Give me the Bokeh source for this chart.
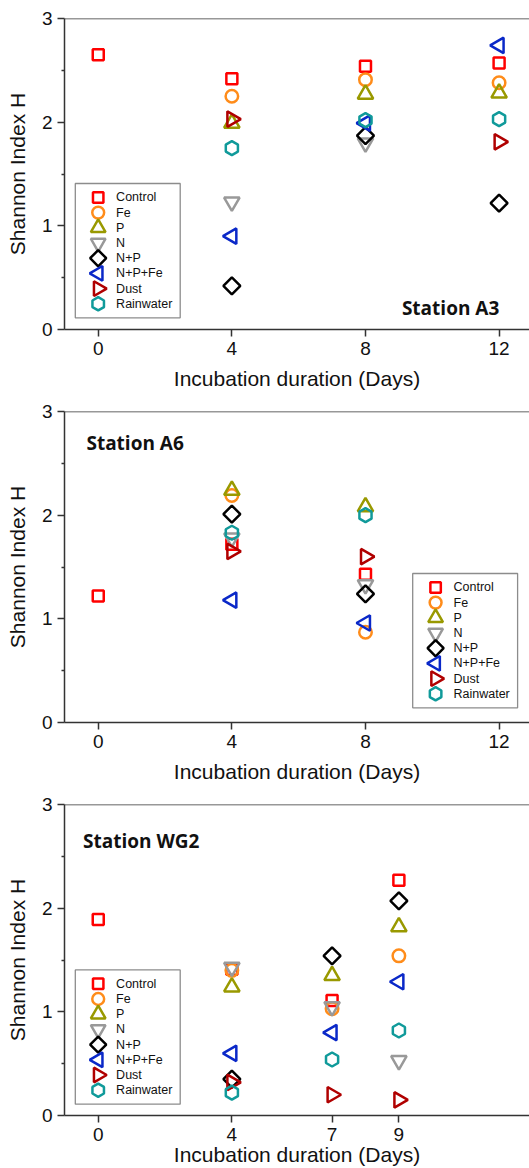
import numpy as np
from bokeh.plotting import figure
from bokeh.layouts import column
from bokeh.models import FixedTicker, Span, Range1d
from bokeh.core.properties import value
from bokeh.embed import file_html
from bokeh.resources import INLINE

nan = float("nan")

# ---------------- data ----------------
treatments = ["Control", "Fe", "P", "N", "N+P", "N+P+Fe", "Dust", "Rainwater"]

a3_days = [0, 4, 8, 12]
a3_control = [2.65, 2.42, 2.54, 2.57]
a3_fe = [nan, 2.25, 2.41, 2.38]
a3_p = [nan, 1.99, 2.27, 2.28]
a3_n = [nan, 1.23, 1.80, nan]
a3_np = [nan, 0.42, 1.87, 1.22]
a3_npfe = [nan, 0.90, 1.99, 2.74]
a3_dust = [nan, 2.03, nan, 1.81]
a3_rain = [nan, 1.75, 2.02, 2.03]

a6_days = [0, 4, 8]
a6_control = [1.22, 1.72, 1.43]
a6_fe = [nan, 2.19, 0.87]
a6_p = [nan, 2.24, 2.08]
a6_n = [nan, 1.78, 1.33]
a6_np = [nan, 2.01, 1.24]
a6_npfe = [nan, 1.18, 0.96]
a6_dust = [nan, 1.65, 1.60]
a6_rain = [nan, 1.83, 2.00]

wg2_days = [0, 4, 7, 9]
wg2_control = [1.89, 1.41, 1.11, 2.27]
wg2_fe = [nan, 1.40, 1.03, 1.54]
wg2_p = [nan, 1.24, 1.35, 1.82]
wg2_n = [nan, 1.43, 1.05, 0.53]
wg2_np = [nan, 0.35, 1.54, 2.07]
wg2_npfe = [nan, 0.60, 0.80, 1.29]
wg2_dust = [nan, 0.32, 0.20, 0.15]
wg2_rain = [nan, 0.22, 0.54, 0.82]

a3_ticks = [0, 4, 8, 12]
a6_ticks = [0, 4, 8, 12]
wg2_ticks = [0, 4, 7, 9]
y_ticks = [0, 1, 2, 3]
y_minor = [0.5, 1.5, 2.5]

# ---------------- styles ----------------
colors = ["#FF0000", "#FF8C1A", "#999900", "#999999", "#000000", "#0A28C8", "#B00000", "#109A9A"]
markers = ["square", "circle", "triangle", "inverted_triangle", "square", "triangle", "triangle", "hex"]
angles = [0, 0, 0, 0, np.pi / 4, np.pi / 2, -np.pi / 2, np.pi / 2]
sizes = [11, 12.5, 15.5, 15.5, 12, 15.5, 15.5, 14]
LW = 2.5
AXC = "#333333"
FONT = "Liberation Sans"

W = 529
BL = 64
X0, X1 = -1.01, 12.91
FRAME_H = 311


def make_panel(days, series, ticks, height, bottom, title, tx, ty, leg_left, leg_top, xlab_standoff):
    p = figure(width=W, height=height, x_range=Range1d(X0, X1), y_range=Range1d(0, 3),
               min_border_left=BL, min_border_right=0, min_border_top=18, min_border_bottom=bottom,
               output_backend="svg", toolbar_location=None)
    p.outline_line_color = None
    p.xgrid.visible = False
    p.ygrid.visible = False
    p.background_fill_color = "white"

    fw = W - BL
    def px2x(px):
        return X0 + px * (X1 - X0) / fw
    def py2y(py):
        return 3 - py * 3.0 / FRAME_H

    for ys, c, m, a, s in zip(series, colors, markers, angles, sizes):
        p.scatter(days, ys, marker=m, angle=a, size=s, fill_color=None,
                  line_color=c, line_width=LW)

    # top frame line
    p.add_layout(Span(location=3, dimension="width", line_color=AXC, line_width=1.5))

    # axes
    p.xaxis.ticker = FixedTicker(ticks=ticks, minor_ticks=[])
    p.yaxis.ticker = FixedTicker(ticks=y_ticks, minor_ticks=y_minor)
    for ax in (p.xaxis[0], p.yaxis[0]):
        ax.axis_line_color = AXC
        ax.axis_line_width = 1.5
        ax.major_tick_line_color = AXC
        ax.major_tick_line_width = 1.5
        ax.minor_tick_line_color = AXC
        ax.minor_tick_line_width = 1.5
        ax.major_tick_in = 0
        ax.major_tick_out = 7
        ax.minor_tick_in = 0
        ax.minor_tick_out = 3
        ax.major_label_text_font = FONT
        ax.major_label_text_font_size = "19px"
        ax.major_label_text_color = "#111111"
        ax.axis_label_text_font = FONT
        ax.axis_label_text_font_size = "21px"
        ax.axis_label_text_font_style = "normal"
        ax.axis_label_text_color = "#111111"
    p.xaxis.axis_label = "Incubation duration (Days)"
    p.yaxis.axis_label = "Shannon Index H"
    p.xaxis.major_label_standoff = 5
    p.yaxis.major_label_standoff = 5
    p.xaxis.axis_label_standoff = xlab_standoff
    p.yaxis.axis_label_standoff = 10

    # station title
    p.text(x=[tx], y=[ty], text=[title], text_font=value("Open Sans"),
           text_font_style="bold", text_font_size="19px", text_color="#111111",
           text_align="left", text_baseline="alphabetic")

    # legend box (manual, to keep rotated marker shapes)
    lw_, lh_ = 104.9, 134.3
    p.quad(left=[px2x(leg_left)], right=[px2x(leg_left + lw_)],
           top=[py2y(leg_top)], bottom=[py2y(leg_top + lh_)],
           fill_color="white", line_color="#8c8c8c", line_width=1.3)
    for i, (name, c, m, a, s) in enumerate(zip(treatments, colors, markers, angles, sizes)):
        yy = py2y(leg_top + 13.9 + 15.2 * i)
        p.scatter([px2x(leg_left + 22.9)], [yy], marker=m, angle=a, size=s * 0.95,
                  fill_color=None, line_color=c, line_width=LW)
        p.text(x=[px2x(leg_left + 40.8)], y=[yy], text=[name], text_font=value(FONT),
               text_font_size="12.5px", text_color="#111111",
               text_align="left", text_baseline="middle")
    return p


p1 = make_panel(a3_days, [a3_control, a3_fe, a3_p, a3_n, a3_np, a3_npfe, a3_dust, a3_rain],
                a3_ticks, 393, 64, "Station A3", 9.09, 0.208, 10.8, 165.0, 9)
p2 = make_panel(a6_days, [a6_control, a6_fe, a6_p, a6_n, a6_np, a6_npfe, a6_dust, a6_rain],
                a6_ticks, 393, 64, "Station A6", -0.354, 2.70, 348.2, 162.0, 9)
p3 = make_panel(wg2_days, [wg2_control, wg2_fe, wg2_p, wg2_n, wg2_np, wg2_npfe, wg2_dust, wg2_rain],
                wg2_ticks, 382, 53, "Station WG2", -0.455, 2.65, 10.8, 165.4, -1)

layout = column(p1, p2, p3, spacing=0)
open("out.html", "w").write(file_html(layout, INLINE))
